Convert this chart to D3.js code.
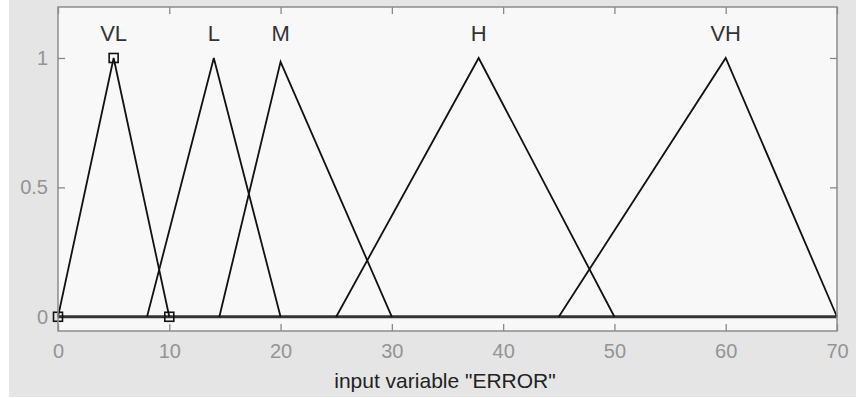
<!DOCTYPE html>
<html>
<head>
<meta charset="utf-8">
<script src="https://cdn.jsdelivr.net/npm/d3@7"></script>
<style>
  body { margin: 0; background: #fff; }
  svg { display: block; }
</style>
</head>
<body>
<div id="chart"></div>
<script>
// membership functions of input "ERROR" (trimf params a, b, c)
const mfNames = ['VL', 'L', 'M', 'H', 'VH'];
const mfParams = [[0, 5, 10], [8, 14, 20], [14.5, 20, 30], [25, 37.8, 50], [45, 60, 70]];
const mfPeaks = [1, 1, 0.985, 1, 1];
const xTicks = [0, 10, 20, 30, 40, 50, 60, 70];
const yTicks = [0, 0.5, 1];
const xRange = [0, 70];
const selected = 0; // VL is highlighted with square markers

const width = 856, height = 398;
const margin = { top: 7, right: 19, bottom: 67, left: 58 };
const font = 'Liberation Sans, Arial, sans-serif';

const svg = d3.select('#chart').append('svg')
  .attr('width', width)
  .attr('height', height);

svg.append('rect')
  .attr('x', 9).attr('y', 0)
  .attr('width', width - 9).attr('height', height - 1)
  .attr('fill', '#e5e5e5');

const x = d3.scaleLinear().domain(xRange).range([margin.left, width - margin.right]);
const y = d3.scaleLinear().domain([-0.055, 1.197]).range([height - margin.bottom, margin.top]);

svg.append('rect')
  .attr('x', margin.left).attr('y', margin.top)
  .attr('width', width - margin.left - margin.right)
  .attr('height', height - margin.top - margin.bottom)
  .attr('fill', '#f8f8f8');

// axes with inside ticks, MATLAB style
const gx = svg.append('g')
  .attr('transform', `translate(0,${height - margin.bottom})`)
  .call(d3.axisBottom(x).tickValues(xTicks).tickSize(-7).tickPadding(13).tickFormat(d3.format('d')));
const gxTop = svg.append('g')
  .attr('transform', `translate(0,${margin.top})`)
  .call(d3.axisTop(x).tickValues(xTicks).tickSize(-7).tickFormat(''));
const gy = svg.append('g')
  .attr('transform', `translate(${margin.left},0)`)
  .call(d3.axisLeft(y).tickValues(yTicks).tickSize(-7).tickPadding(10).tickFormat(d => d));
const gyRight = svg.append('g')
  .attr('transform', `translate(${width - margin.right},0)`)
  .call(d3.axisRight(y).tickValues(yTicks).tickSize(-7).tickFormat(''));

[gx, gxTop, gy, gyRight].forEach(g => {
  g.select('.domain').remove();
  g.selectAll('line').attr('stroke', '#888').attr('stroke-width', 1.3);
  g.selectAll('text')
    .attr('fill', '#949494')
    .attr('font-family', font)
    .attr('font-size', '20px');
});

// zero line: each mf is plotted across the whole range, so it overlaps there
svg.append('line')
  .attr('x1', x(xRange[0])).attr('x2', x(xRange[1]))
  .attr('y1', y(0)).attr('y2', y(0))
  .attr('stroke', '#333').attr('stroke-width', 3);

const line = d3.line().x(d => x(d[0])).y(d => y(d[1]));

mfParams.forEach((p, i) => {
  const pts = [[p[0], 0], [p[1], mfPeaks[i]], [p[2], 0]];
  svg.append('path')
    .attr('d', line(pts))
    .attr('fill', 'none')
    .attr('stroke', '#111')
    .attr('stroke-width', 1.8);
});

// labels above peaks
svg.selectAll('text.mf')
  .data(mfNames)
  .enter()
  .append('text')
  .attr('class', 'mf')
  .attr('x', (d, i) => x(mfParams[i][1]))
  .attr('y', y(1.066))
  .attr('text-anchor', 'middle')
  .attr('font-family', font)
  .attr('font-size', '22px')
  .attr('fill', '#333')
  .text(d => d);

// square markers on the selected mf
const sel = mfParams[selected];
svg.selectAll('rect.marker')
  .data([[sel[0], 0], [sel[1], mfPeaks[selected]], [sel[2], 0]])
  .enter()
  .append('rect')
  .attr('class', 'marker')
  .attr('x', d => x(d[0]) - 4.5)
  .attr('y', d => y(d[1]) - 4.5)
  .attr('width', 9).attr('height', 9)
  .attr('fill', 'none')
  .attr('stroke', '#111')
  .attr('stroke-width', 1.6);

// plot frame
svg.append('rect')
  .attr('x', margin.left).attr('y', margin.top)
  .attr('width', width - margin.left - margin.right)
  .attr('height', height - margin.top - margin.bottom)
  .attr('fill', 'none')
  .attr('stroke', '#8c8c8c')
  .attr('stroke-width', 1.5);

svg.append('text')
  .attr('x', 445)
  .attr('y', 388)
  .attr('text-anchor', 'middle')
  .attr('font-family', font)
  .attr('font-size', '21px')
  .attr('fill', '#222')
  .text('input variable "ERROR"');
</script>
</body>
</html>
